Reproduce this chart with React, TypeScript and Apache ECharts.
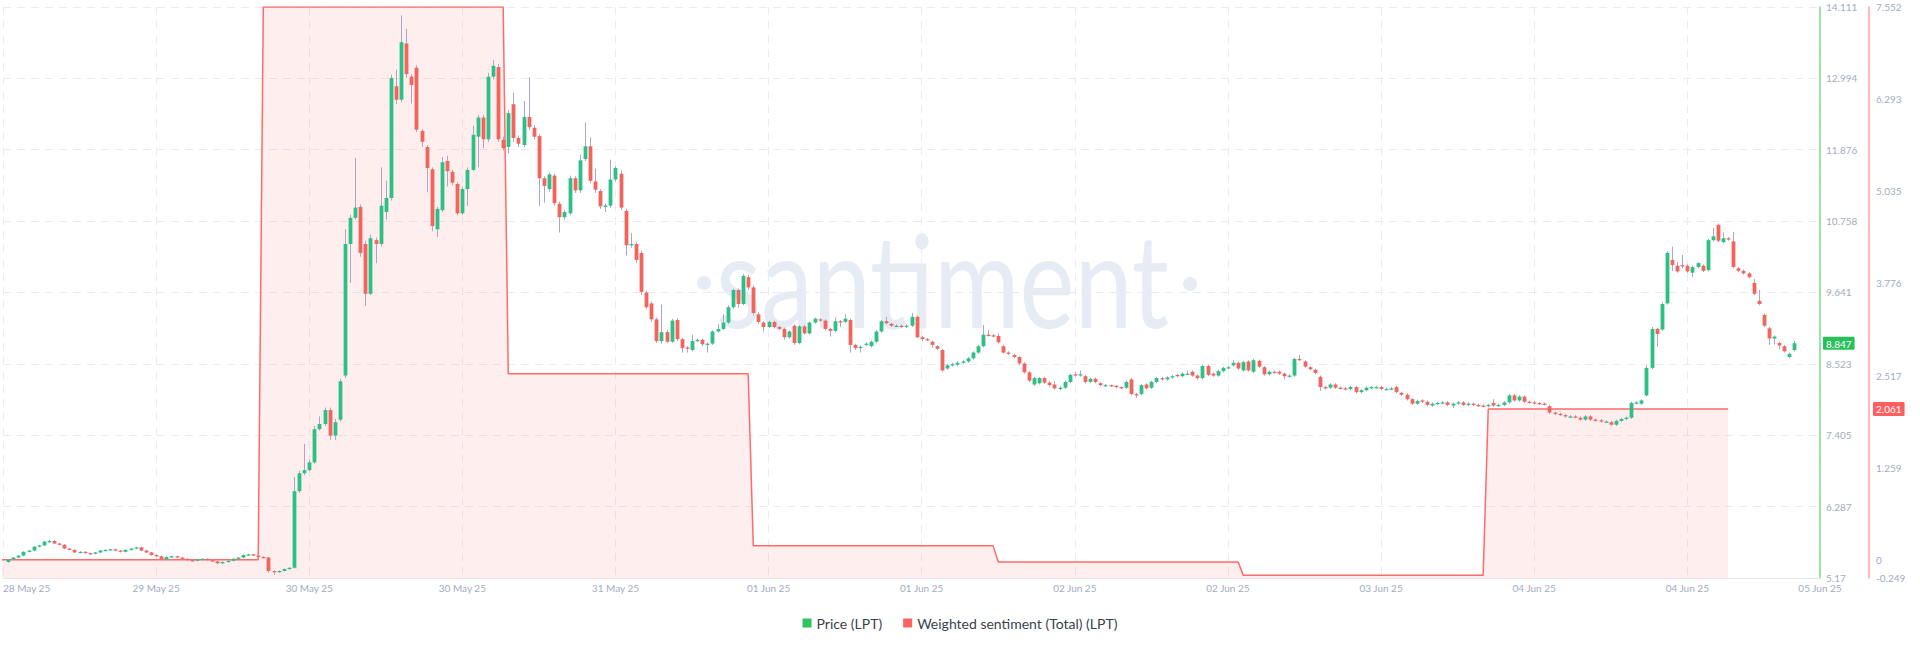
import React, { useEffect, useRef } from 'react';
import * as echarts from 'echarts';

// ---------- time frame ----------
const T0 = Date.UTC(2025, 4, 28, 22, 30); // left edge of the plot
const X_MAX_HOURS = 178; // right edge (05 Jun 25 08:30)
const X_TICK_HOURS = 15;
const FIRST_CANDLE = Date.UTC(2025, 4, 28, 23, 0);
const CANDLE_HOURS = 0.5; // 30-minute candles
const MONTHS = ['Jan', 'Feb', 'Mar', 'Apr', 'May', 'Jun', 'Jul', 'Aug', 'Sep', 'Oct', 'Nov', 'Dec'];

// ---------- axes ----------
const priceTicks = [5.17, 6.287, 7.405, 8.523, 9.641, 10.758, 11.876, 12.994, 14.111];
const sentimentTicks = [-0.249, 0, 1.259, 2.517, 3.776, 5.035, 6.293, 7.552];
const lastPrice = 8.847;
const lastSentiment = 2.061;

// ---------- weighted sentiment (daily) ----------
const sentimentDays = ['2025-05-28', '2025-05-29', '2025-05-30', '2025-05-31', '2025-06-01', '2025-06-02', '2025-06-03', '2025-06-04'];
const sentimentValues = [0, 0, 7.552, 2.54, 0.19, -0.03, -0.21, 2.061];

// ---------- price candles, 30 min, [open, close, low, high] ----------
const candles28May = [
  [5.42, 5.46, 5.41, 5.47], [5.46, 5.49, 5.45, 5.5],
];
const candles29May = [
  [5.49, 5.52, 5.48, 5.53], [5.52, 5.58, 5.51, 5.59], [5.58, 5.6, 5.57, 5.61], [5.6, 5.66, 5.59, 5.67],
  [5.66, 5.68, 5.65, 5.69], [5.68, 5.74, 5.67, 5.75], [5.74, 5.75, 5.72, 5.77], [5.75, 5.71, 5.7, 5.76],
  [5.71, 5.69, 5.68, 5.72], [5.69, 5.63, 5.62, 5.7], [5.63, 5.61, 5.6, 5.64], [5.61, 5.57, 5.56, 5.62],
  [5.57, 5.58, 5.56, 5.59], [5.58, 5.56, 5.55, 5.59], [5.56, 5.55, 5.53, 5.57], [5.55, 5.57, 5.54, 5.58],
  [5.57, 5.6, 5.56, 5.61], [5.6, 5.61, 5.59, 5.62], [5.61, 5.62, 5.6, 5.63], [5.62, 5.6, 5.59, 5.63],
  [5.6, 5.58, 5.57, 5.61], [5.58, 5.61, 5.57, 5.62], [5.61, 5.63, 5.6, 5.64], [5.63, 5.65, 5.62, 5.66],
  [5.65, 5.6, 5.59, 5.66], [5.6, 5.57, 5.56, 5.61], [5.57, 5.53, 5.52, 5.58], [5.53, 5.51, 5.5, 5.54],
  [5.51, 5.46, 5.45, 5.52], [5.46, 5.5, 5.45, 5.51], [5.5, 5.51, 5.49, 5.52], [5.51, 5.49, 5.48, 5.52],
  [5.49, 5.47, 5.46, 5.5], [5.47, 5.45, 5.44, 5.48], [5.45, 5.44, 5.43, 5.46], [5.44, 5.46, 5.43, 5.47],
  [5.46, 5.47, 5.45, 5.48], [5.47, 5.45, 5.44, 5.48], [5.45, 5.43, 5.42, 5.46], [5.43, 5.4, 5.39, 5.44],
  [5.4, 5.42, 5.39, 5.43], [5.42, 5.44, 5.41, 5.45], [5.44, 5.47, 5.43, 5.48], [5.47, 5.49, 5.46, 5.5],
  [5.49, 5.53, 5.48, 5.54], [5.53, 5.54, 5.52, 5.55], [5.54, 5.52, 5.51, 5.55], [5.52, 5.5, 5.49, 5.53],
];
const candles30May = [
  [5.5, 5.49, 5.48, 5.51], [5.49, 5.28, 5.25, 5.5], [5.28, 5.26, 5.22, 5.29], [5.26, 5.28, 5.25, 5.29],
  [5.28, 5.31, 5.27, 5.32], [5.31, 5.33, 5.3, 5.34], [5.33, 6.53, 5.32, 6.75], [6.53, 6.81, 6.5, 6.85],
  [6.81, 6.86, 6.78, 7.27], [6.86, 6.98, 6.84, 7.02], [6.98, 7.5, 6.96, 7.55], [7.5, 7.58, 7.48, 7.7],
  [7.58, 7.8, 7.55, 7.84], [7.8, 7.4, 7.33, 7.84], [7.4, 7.61, 7.33, 7.66], [7.65, 8.25, 7.62, 8.29],
  [8.34, 10.4, 8.3, 10.63], [10.4, 10.81, 9.79, 10.86], [10.81, 10.97, 10.78, 11.75], [10.98, 10.26, 10.2, 11.02],
  [10.4, 9.62, 9.43, 10.45], [9.62, 10.49, 9.6, 10.55], [10.46, 10.4, 10.1, 10.5], [10.4, 11.0, 10.36, 11.6],
  [10.9, 11.12, 10.78, 11.39], [11.12, 13.0, 11.08, 13.05], [12.87, 12.66, 12.59, 13.13], [12.66, 13.56, 12.62, 13.98],
  [13.54, 13.06, 13.0, 13.77], [13.02, 12.89, 12.6, 13.06], [13.16, 12.19, 12.15, 13.2], [12.17, 12.0, 11.92, 12.2],
  [11.92, 11.59, 11.21, 11.95], [11.57, 10.68, 10.6, 11.6], [10.63, 10.95, 10.51, 10.98], [10.93, 11.68, 10.9, 11.76],
  [11.7, 11.54, 11.3, 11.78], [11.53, 11.36, 11.32, 11.56], [11.34, 10.88, 10.85, 11.37], [10.88, 11.26, 10.86, 11.3],
  [11.26, 11.56, 11.0, 11.6], [11.56, 12.11, 11.54, 12.25], [12.08, 12.38, 11.6, 12.42], [12.38, 12.04, 11.9, 12.42],
  [12.04, 13.02, 12.0, 13.08], [13.02, 13.19, 12.98, 13.28], [13.17, 12.04, 12.0, 13.22], [12.03, 11.9, 11.86, 12.08],
];
const candles31May = [
  [11.92, 12.45, 11.82, 12.5], [12.59, 12.06, 12.0, 12.77], [12.06, 11.97, 11.92, 12.1], [11.95, 12.39, 11.92, 12.64],
  [12.39, 12.23, 12.18, 13.01], [12.22, 12.08, 12.04, 12.26], [12.09, 11.43, 11.0, 12.12], [11.43, 11.31, 11.05, 11.46],
  [11.26, 11.49, 11.22, 11.52], [11.47, 11.04, 11.0, 11.5], [11.03, 10.82, 10.58, 11.06], [10.82, 10.9, 10.78, 10.93],
  [10.88, 11.43, 10.85, 11.47], [11.43, 11.24, 11.2, 11.46], [11.24, 11.71, 11.2, 11.8], [11.73, 11.93, 11.7, 12.3],
  [11.93, 11.39, 11.35, 12.07], [11.38, 11.25, 11.2, 11.58], [11.23, 10.99, 10.95, 11.26], [10.99, 11.0, 10.9, 11.03],
  [11.0, 11.41, 10.97, 11.72], [11.41, 11.59, 11.38, 11.62], [11.5, 10.97, 10.93, 11.55], [10.92, 10.38, 10.22, 10.95],
  [10.38, 10.4, 10.34, 10.57], [10.4, 10.15, 10.1, 10.43], [10.26, 9.65, 9.6, 10.3], [9.64, 9.41, 9.38, 9.67],
  [9.47, 9.22, 9.18, 9.5], [9.22, 8.88, 8.85, 9.25], [8.88, 9.02, 8.84, 9.45], [9.02, 8.87, 8.85, 9.06],
  [8.87, 9.2, 8.85, 9.23], [9.21, 8.91, 8.88, 9.24], [8.91, 8.77, 8.7, 8.93], [8.78, 8.77, 8.7, 8.8],
  [8.74, 8.88, 8.72, 8.98], [8.88, 8.9, 8.86, 8.92], [8.9, 8.83, 8.8, 8.92], [8.83, 8.84, 8.7, 8.86],
  [8.84, 9.03, 8.82, 9.05], [9.03, 9.07, 9.01, 9.15], [9.07, 9.17, 9.05, 9.3], [9.17, 9.41, 9.15, 9.44],
  [9.41, 9.68, 9.39, 9.7], [9.68, 9.46, 9.4, 9.7], [9.46, 9.9, 9.44, 9.93], [9.88, 9.72, 9.68, 9.92],
];
const candles01Jun = [
  [9.72, 9.32, 9.28, 9.75], [9.3, 9.18, 9.15, 9.33], [9.17, 9.1, 9.03, 9.19], [9.1, 9.18, 9.08, 9.2],
  [9.18, 9.1, 9.08, 9.2], [9.1, 9.07, 9.05, 9.12], [9.07, 8.94, 8.9, 9.09], [8.94, 9.03, 8.92, 9.05],
  [9.12, 8.85, 8.82, 9.14], [8.85, 9.11, 8.83, 9.13], [9.11, 9.0, 8.98, 9.13], [9.0, 9.17, 8.98, 9.19],
  [9.17, 9.23, 9.15, 9.25], [9.22, 9.2, 9.18, 9.24], [9.2, 9.07, 9.05, 9.22], [9.07, 9.04, 8.95, 9.09],
  [9.04, 9.19, 9.02, 9.25], [9.19, 9.18, 9.1, 9.21], [9.18, 9.23, 9.16, 9.3], [9.21, 8.82, 8.7, 9.23],
  [8.82, 8.77, 8.74, 8.84], [8.77, 8.79, 8.7, 8.81], [8.82, 8.84, 8.8, 8.86], [8.8, 8.87, 8.78, 8.89],
  [8.87, 9.03, 8.85, 9.05], [9.03, 9.19, 9.01, 9.21], [9.19, 9.16, 9.14, 9.26], [9.15, 9.12, 9.1, 9.17],
  [9.12, 9.12, 9.1, 9.14], [9.12, 9.1, 9.08, 9.14], [9.1, 9.12, 9.08, 9.14], [9.12, 9.26, 9.1, 9.32],
  [9.26, 8.94, 8.92, 9.28], [8.94, 8.91, 8.88, 8.96], [8.91, 8.9, 8.88, 8.93], [8.87, 8.82, 8.78, 8.89],
  [8.8, 8.76, 8.74, 8.82], [8.74, 8.42, 8.4, 8.76], [8.45, 8.5, 8.43, 8.52], [8.5, 8.52, 8.48, 8.54],
  [8.51, 8.54, 8.49, 8.56], [8.54, 8.56, 8.52, 8.58], [8.56, 8.61, 8.54, 8.63], [8.61, 8.7, 8.59, 8.72],
  [8.7, 8.8, 8.68, 8.82], [8.8, 8.98, 8.78, 9.13], [8.98, 8.97, 8.95, 9.05], [8.97, 8.96, 8.94, 8.99],
];
const candles02Jun = [
  [8.96, 8.86, 8.84, 9.0], [8.8, 8.7, 8.68, 8.82], [8.7, 8.68, 8.66, 8.72], [8.66, 8.63, 8.61, 8.68],
  [8.63, 8.53, 8.5, 8.65], [8.53, 8.39, 8.37, 8.55], [8.39, 8.26, 8.24, 8.41], [8.2, 8.3, 8.18, 8.32],
  [8.22, 8.3, 8.2, 8.32], [8.3, 8.23, 8.21, 8.32], [8.23, 8.19, 8.17, 8.25], [8.2, 8.14, 8.12, 8.25],
  [8.13, 8.15, 8.11, 8.17], [8.15, 8.24, 8.13, 8.26], [8.24, 8.35, 8.22, 8.37], [8.36, 8.34, 8.32, 8.4],
  [8.34, 8.36, 8.32, 8.42], [8.33, 8.24, 8.22, 8.35], [8.24, 8.29, 8.22, 8.31], [8.29, 8.24, 8.22, 8.31],
  [8.22, 8.19, 8.17, 8.24], [8.19, 8.19, 8.17, 8.21], [8.19, 8.18, 8.16, 8.2], [8.18, 8.16, 8.14, 8.19],
  [8.16, 8.15, 8.13, 8.17], [8.15, 8.24, 8.13, 8.26], [8.28, 8.05, 8.03, 8.3], [8.05, 8.04, 7.99, 8.07],
  [8.05, 8.19, 8.03, 8.21], [8.2, 8.14, 8.12, 8.22], [8.15, 8.24, 8.13, 8.26], [8.24, 8.3, 8.22, 8.32],
  [8.3, 8.28, 8.26, 8.32], [8.28, 8.31, 8.26, 8.33], [8.31, 8.33, 8.29, 8.35], [8.35, 8.33, 8.31, 8.37],
  [8.33, 8.37, 8.31, 8.39], [8.37, 8.37, 8.35, 8.42], [8.4, 8.34, 8.32, 8.42], [8.34, 8.3, 8.28, 8.36],
  [8.3, 8.49, 8.28, 8.51], [8.49, 8.35, 8.33, 8.51], [8.37, 8.34, 8.32, 8.39], [8.34, 8.41, 8.32, 8.43],
  [8.41, 8.46, 8.39, 8.48], [8.46, 8.47, 8.44, 8.49], [8.5, 8.54, 8.48, 8.58], [8.54, 8.45, 8.43, 8.56],
];
const candles03Jun = [
  [8.42, 8.55, 8.4, 8.57], [8.56, 8.42, 8.4, 8.58], [8.4, 8.58, 8.38, 8.6], [8.57, 8.48, 8.46, 8.59],
  [8.47, 8.36, 8.34, 8.49], [8.36, 8.4, 8.34, 8.42], [8.4, 8.39, 8.37, 8.42], [8.4, 8.37, 8.35, 8.42],
  [8.37, 8.33, 8.28, 8.39], [8.33, 8.34, 8.31, 8.36], [8.34, 8.6, 8.32, 8.62], [8.6, 8.59, 8.57, 8.66],
  [8.56, 8.48, 8.46, 8.58], [8.47, 8.44, 8.42, 8.49], [8.43, 8.38, 8.36, 8.45], [8.32, 8.16, 8.1, 8.34],
  [8.16, 8.15, 8.12, 8.18], [8.15, 8.2, 8.13, 8.22], [8.2, 8.15, 8.13, 8.22], [8.15, 8.14, 8.12, 8.17],
  [8.14, 8.13, 8.11, 8.16], [8.13, 8.16, 8.11, 8.18], [8.16, 8.08, 8.06, 8.18], [8.08, 8.11, 8.06, 8.13],
  [8.11, 8.15, 8.09, 8.17], [8.15, 8.16, 8.13, 8.18], [8.16, 8.16, 8.14, 8.18], [8.16, 8.13, 8.11, 8.18],
  [8.13, 8.13, 8.11, 8.15], [8.13, 8.14, 8.11, 8.16], [8.16, 8.08, 8.06, 8.18], [8.07, 8.04, 8.02, 8.09],
  [8.04, 7.97, 7.95, 8.06], [7.97, 7.9, 7.88, 7.99], [7.9, 7.94, 7.88, 7.96], [7.95, 7.93, 7.91, 7.97],
  [7.93, 7.88, 7.86, 7.95], [7.87, 7.9, 7.85, 7.92], [7.9, 7.91, 7.88, 7.93], [7.91, 7.92, 7.89, 7.94],
  [7.92, 7.88, 7.86, 7.94], [7.87, 7.9, 7.83, 7.92], [7.9, 7.92, 7.88, 7.94], [7.92, 7.88, 7.86, 7.94],
  [7.88, 7.9, 7.86, 7.92], [7.9, 7.88, 7.86, 7.92], [7.88, 7.87, 7.85, 7.9], [7.87, 7.86, 7.84, 7.89],
];
const candles04Jun = [
  [7.86, 7.88, 7.84, 7.9], [7.91, 7.87, 7.85, 7.97], [7.87, 7.88, 7.85, 7.9], [7.88, 7.92, 7.86, 7.94],
  [7.92, 8.03, 7.9, 8.05], [8.03, 7.95, 7.93, 8.05], [7.95, 8.01, 7.93, 8.03], [8.01, 7.93, 7.91, 8.03],
  [7.93, 7.92, 7.9, 7.95], [7.92, 7.91, 7.89, 7.94], [7.91, 7.9, 7.88, 7.93], [7.9, 7.89, 7.87, 7.92],
  [7.86, 7.76, 7.74, 7.88], [7.76, 7.74, 7.72, 7.78], [7.74, 7.73, 7.71, 7.76], [7.72, 7.7, 7.68, 7.74],
  [7.7, 7.7, 7.68, 7.72], [7.7, 7.69, 7.67, 7.72], [7.68, 7.65, 7.63, 7.7], [7.65, 7.7, 7.63, 7.72],
  [7.7, 7.65, 7.63, 7.72], [7.65, 7.64, 7.62, 7.67], [7.64, 7.62, 7.6, 7.66], [7.62, 7.62, 7.6, 7.64],
  [7.61, 7.57, 7.55, 7.63], [7.57, 7.63, 7.55, 7.65], [7.63, 7.66, 7.61, 7.68], [7.66, 7.68, 7.64, 7.7],
  [7.68, 7.91, 7.66, 7.93], [7.91, 7.92, 7.89, 7.94], [7.9, 7.95, 7.88, 7.97], [8.03, 8.46, 8.01, 8.5],
  [8.46, 9.07, 8.44, 9.1], [9.07, 8.99, 8.79, 9.09], [9.06, 9.46, 9.04, 9.49], [9.47, 10.26, 9.45, 10.29],
  [10.15, 10.07, 9.98, 10.36], [10.06, 9.97, 9.95, 10.12], [10.07, 10.05, 10.02, 10.23], [10.06, 9.97, 9.95, 10.08],
  [9.95, 10.04, 9.88, 10.06], [10.04, 10.1, 10.02, 10.12], [10.06, 9.98, 9.96, 10.08], [9.99, 10.46, 9.97, 10.48],
  [10.46, 10.52, 10.44, 10.65], [10.7, 10.45, 10.43, 10.72], [10.43, 10.49, 10.41, 10.58], [10.49, 10.47, 10.45, 10.51],
];
const candles05Jun = [
  [10.44, 10.04, 10.02, 10.59], [10.02, 9.98, 9.96, 10.04], [9.98, 9.94, 9.92, 10.0], [9.94, 9.88, 9.86, 9.96],
  [9.79, 9.62, 9.6, 9.85], [9.51, 9.46, 9.44, 9.68], [9.29, 9.12, 9.1, 9.31], [9.08, 8.92, 8.82, 9.1],
  [8.92, 8.95, 8.83, 8.97], [8.85, 8.81, 8.75, 8.87], [8.8, 8.72, 8.7, 8.82], [8.63, 8.68, 8.61, 8.7],
  [8.74, 8.847, 8.72, 8.88],
];

// ---------- styles ----------
const GREEN = '#2dbf85';
const RED = '#f0665c';
const WICK = '#aba6c9';
const AXIS_TEXT = '#a3abc3';
const GRID_LINE = '#eaecf2';
const SENT_LINE = '#ff6b6b';
const WATERMARK = '#e7ebf3';
const FONT = 'Lato, "Open Sans", sans-serif';

const HOUR = 3600 * 1000;
function fmtDate(hours: number): string {
  const d = new Date(T0 + hours * HOUR);
  return `${String(d.getUTCDate()).padStart(2, '0')} ${MONTHS[d.getUTCMonth()]} ${String(d.getUTCFullYear()).slice(2)}`;
}

export default function App() {
  const ref = useRef<HTMLDivElement>(null);
  useEffect(() => {
    if (!ref.current) return;
    const chart = echarts.init(ref.current, undefined, { renderer: 'svg' });

    const allCandles = [
      ...candles28May, ...candles29May, ...candles30May, ...candles31May,
      ...candles01Jun, ...candles02Jun, ...candles03Jun, ...candles04Jun, ...candles05Jun,
    ];
    const firstHour = (FIRST_CANDLE - T0) / HOUR;
    const priceData = allCandles.map((c, i) => [firstHour + i * CANDLE_HOURS, c[0], c[1], c[2], c[3]]);

    const sentimentData: number[][] = [];
    sentimentDays.forEach((day, i) => {
      const start = (Date.parse(day + 'T00:00:00Z') - T0) / HOUR;
      sentimentData.push([start, sentimentValues[i]]);
      sentimentData.push([start + 23.5, sentimentValues[i]]);
    });

    const option: any = {
      animation: false,
      textStyle: { fontFamily: FONT },
      grid: { left: 0, right: 100, top: 7, bottom: 71, containLabel: false },
      legend: {
        top: 611,
        left: 'center',
        icon: 'rect',
        itemWidth: 9,
        itemHeight: 9,
        itemGap: 21,
        selectedMode: false,
        textStyle: { fontSize: 14, color: '#3a3f4c', fontFamily: FONT },
        data: ['Price (LPT)', 'Weighted sentiment (Total) (LPT)'],
      },
      graphic: [
        { type: 'circle', z: 0, silent: true, shape: { cx: 704, cy: 283, r: 7 }, style: { fill: WATERMARK } },
        {
          type: 'text', z: 0, silent: true, x: 716, y: 278, scaleX: 0.8,
          style: { text: 'santiment', font: '130px Lato, sans-serif', fill: WATERMARK, verticalAlign: 'middle' },
        },
        { type: 'circle', z: 0, silent: true, shape: { cx: 1190, cy: 284, r: 7 }, style: { fill: WATERMARK } },
      ],
      xAxis: {
        type: 'value',
        min: 0,
        max: X_MAX_HOURS,
        interval: X_TICK_HOURS,
        axisLine: { show: true, onZero: false, lineStyle: { color: '#e3e6ee', width: 1 } },
        axisTick: { show: false },
        splitLine: { show: true, lineStyle: { color: GRID_LINE, type: [8, 6], width: 1 } },
        axisLabel: {
          color: AXIS_TEXT, fontSize: 10, margin: 5, fontFamily: FONT,
          alignMinLabel: 'left',
          formatter: (v: number) => fmtDate(v),
        },
      },
      yAxis: [
        {
          type: 'value',
          position: 'right',
          min: priceTicks[0],
          max: priceTicks[priceTicks.length - 1],
          axisLine: { show: true, onZero: false, lineStyle: { color: '#7fdb92', width: 1.5 } },
          axisTick: { show: false, customValues: priceTicks },
          splitLine: { show: true, lineStyle: { color: GRID_LINE, type: [8, 6], width: 1 } },
          axisLabel: {
            customValues: [...priceTicks, lastPrice],
            margin: 3,
            color: AXIS_TEXT,
            fontSize: 10,
            fontFamily: FONT,
            formatter: (v: number) => (v === lastPrice ? `{cur|${v}}` : `{n|${v}}`),
            rich: {
              n: { padding: [0, 0, 0, 3], color: AXIS_TEXT, fontSize: 10, fontFamily: FONT },
              cur: {
                backgroundColor: '#27c05b', color: '#ffffff', padding: [2, 3, 1, 3],
                fontSize: 10, fontFamily: FONT, borderRadius: 1,
              },
            },
          },
        },
        {
          type: 'value',
          position: 'right',
          offset: 49,
          min: sentimentTicks[0],
          max: sentimentTicks[sentimentTicks.length - 1],
          axisLine: { show: true, onZero: false, lineStyle: { color: '#ffa3a3', width: 1.5 } },
          axisTick: { show: false, customValues: sentimentTicks },
          splitLine: { show: false },
          axisLabel: {
            customValues: [...sentimentTicks, lastSentiment],
            margin: 4,
            color: AXIS_TEXT,
            fontSize: 10,
            fontFamily: FONT,
            formatter: (v: number) => (v === lastSentiment ? `{cur|${v}}` : `{n|${v}}`),
            rich: {
              n: { padding: [0, 0, 0, 3], color: AXIS_TEXT, fontSize: 10, fontFamily: FONT },
              cur: {
                backgroundColor: '#ff5f5f', color: '#ffffff', padding: [2, 3, 2, 3],
                fontSize: 10, fontFamily: FONT, borderRadius: 1,
              },
            },
          },
        },
      ],
      series: [
        {
          name: 'Weighted sentiment (Total) (LPT)',
          type: 'line',
          yAxisIndex: 1,
          data: sentimentData,
          showSymbol: false,
          z: 1,
          itemStyle: { color: '#ff6262' },
          lineStyle: { color: SENT_LINE, width: 1.5 },
          areaStyle: { color: 'rgba(255, 107, 107, 0.17)', origin: 'start' },
        },
        {
          name: 'Price (LPT)',
          type: 'custom',
          yAxisIndex: 0,
          z: 3,
          data: priceData,
          encode: { x: 0, y: [1, 2, 3, 4] },
          itemStyle: { color: '#2dc55e' },
          renderItem: (params: any, api: any) => {
            const x = api.value(0);
            const o = api.value(1);
            const c = api.value(2);
            const l = api.value(3);
            const h = api.value(4);
            const top = api.coord([x, Math.max(o, c)]);
            const bot = api.coord([x, Math.min(o, c)]);
            const hi = api.coord([x, h]);
            const lo = api.coord([x, l]);
            const w = 3.8;
            const cx = Math.round(top[0]) + 0.5;
            return {
              type: 'group',
              children: [
                { type: 'line', shape: { x1: cx, y1: hi[1], x2: cx, y2: lo[1] }, style: { stroke: WICK, lineWidth: 1 } },
                {
                  type: 'rect',
                  shape: { x: cx - w / 2, y: top[1], width: w, height: Math.max(1.3, bot[1] - top[1]) },
                  style: { fill: c >= o ? GREEN : RED },
                },
              ],
            };
          },
        },
      ],
    };
    chart.setOption(option);
    return () => chart.dispose();
  }, []);
  return (
    <div
      ref={ref}
      style={{ position: 'absolute', left: 0, top: 0, width: 1920, height: 649, background: '#ffffff' }}
    />
  );
}
